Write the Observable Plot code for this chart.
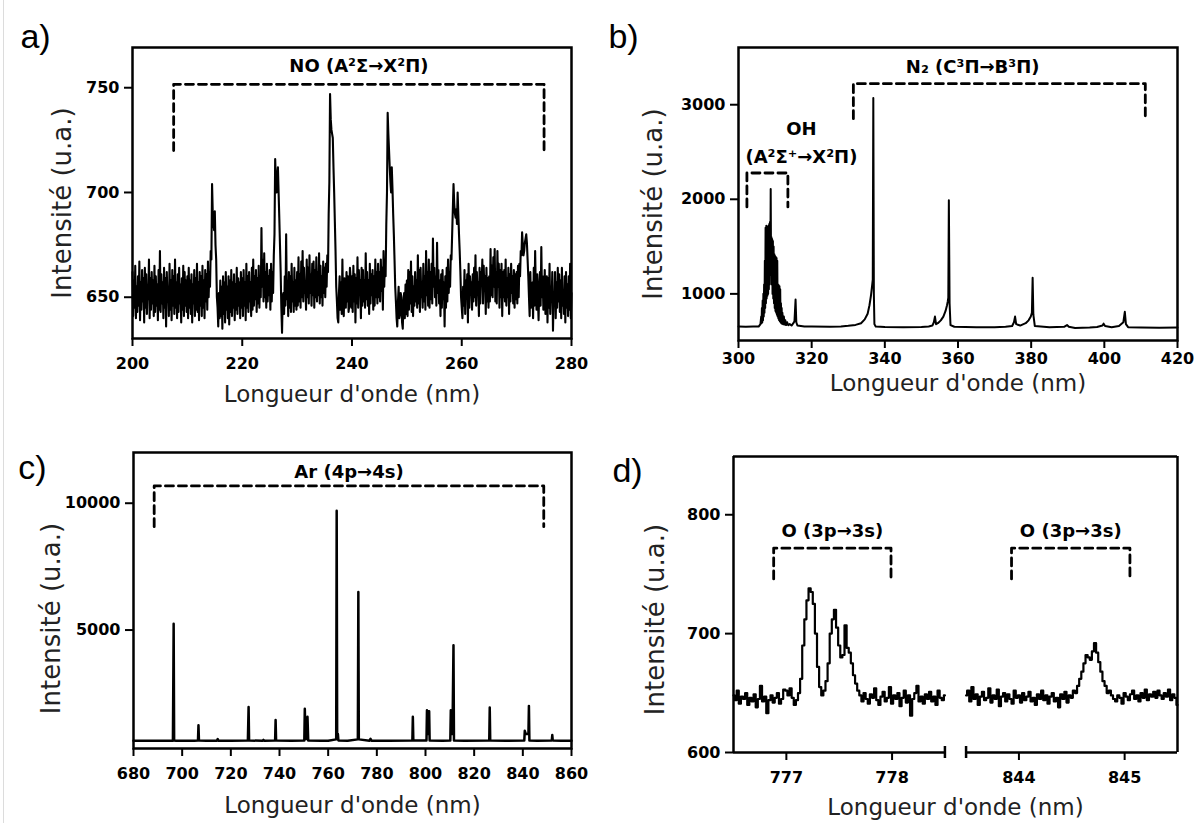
<!DOCTYPE html>
<html>
<head>
<meta charset="utf-8">
<script src="https://cdn.jsdelivr.net/npm/d3@7"></script>
<script src="https://cdn.jsdelivr.net/npm/@observablehq/plot@0.6"></script>
<style>
  html, body { margin: 0; padding: 0; background: #fff; }
  body { position: relative; width: 1198px; height: 823px; overflow: hidden; }
  .panel { position: absolute; }
  .panel svg { max-width: none !important; }
  .edge { position: absolute; left: 3px; top: 0; width: 1px; height: 823px; background: #dcdcdc; }
</style>
</head>
<body>
<div class="edge"></div>
<div id="pa" class="panel" style="left:0;top:0;width:600px;height:411px"></div>
<div id="pb" class="panel" style="left:600px;top:0;width:598px;height:411px"></div>
<div id="pc" class="panel" style="left:0;top:411px;width:600px;height:412px"></div>
<div id="pd" class="panel" style="left:600px;top:411px;width:598px;height:412px"></div>
<script>
// ---------- shared text ----------
const xTitle = "Longueur d'onde (nm)";
const yTitle = "Intensité (u.a.)";

// ---------- panel a : NO band, 200-280 nm (sampled every 0.125 nm) ----------
const aStart = 200, aStep = 0.125;
const aIntensity = [
  662, 641, 658, 645, 665, 640, 655, 643, 660, 646, 667, 639, 657, 644, 663, 648, 659, 638, 664, 645, 661, 642, 656, 649, 668, 640, 659, 644, 662, 647, 658, 641, 665, 643, 660, 646, 656, 639, 663, 644,
  672, 643, 661, 647, 657, 640, 664, 645, 659, 636, 662, 648, 655, 641, 666, 644, 658, 639, 663, 646, 660, 642, 668, 645, 657, 640, 661, 643, 664, 647, 656, 638, 659, 644, 665, 641, 662, 646, 658, 643,
  660, 640, 664, 645, 658, 642, 661, 638, 656, 647, 663, 641, 659, 644, 666, 643, 657, 639, 662, 646, 660, 641, 665, 645, 658, 640, 663, 648, 661, 644, 667, 650, 662, 655, 672, 668, 704, 690, 685, 682,
  691, 675, 668, 650, 645, 636, 652, 640, 658, 641, 655, 635, 660, 642, 657, 638, 662, 644, 655, 640, 660, 637, 658, 643, 663, 641, 657, 645, 661, 639, 656, 644, 664, 642, 659, 646, 657, 640, 662, 645,
  659, 641, 663, 646, 657, 639, 666, 645, 660, 643, 662, 648, 657, 641, 664, 644, 668, 646, 660, 649, 663, 643, 659, 647, 665, 645, 660, 650, 683, 655, 668, 648, 671, 650, 662, 645, 666, 648, 660, 651,
  663, 644, 666, 648, 662, 652, 670, 680, 716, 705, 700, 708, 712, 700, 688, 675, 662, 645, 633, 650, 652, 642, 660, 646, 680, 649, 658, 641, 662, 645, 660, 643, 666, 648, 657, 643, 664, 646, 658, 644,
  662, 646, 669, 648, 661, 645, 667, 650, 672, 648, 664, 652, 657, 644, 668, 650, 664, 647, 670, 652, 661, 646, 666, 651, 667, 645, 663, 650, 669, 648, 662, 651, 671, 647, 665, 650, 660, 646, 667, 652,
  664, 650, 666, 655, 670, 662, 690, 705, 747, 735, 730, 728, 726, 712, 700, 686, 672, 655, 648, 640, 638, 652, 660, 644, 657, 642, 668, 646, 641, 659, 654, 645, 662, 648, 660, 643, 646, 664, 659, 645,
  660, 643, 665, 648, 661, 638, 659, 647, 669, 645, 663, 652, 658, 640, 664, 646, 663, 648, 658, 645, 671, 649, 662, 646, 658, 642, 666, 647, 661, 651, 663, 644, 660, 646, 668, 650, 662, 647, 666, 650,
  662, 648, 668, 653, 664, 644, 672, 655, 668, 660, 685, 700, 738, 728, 720, 712, 705, 700, 712, 702, 690, 680, 668, 655, 648, 640, 636, 648, 655, 640, 642, 652, 650, 638, 635, 648, 652, 640, 656, 642,
  658, 641, 663, 644, 662, 647, 667, 643, 660, 641, 655, 646, 662, 648, 658, 645, 670, 647, 663, 643, 664, 650, 657, 645, 666, 648, 660, 644, 672, 651, 662, 646, 668, 645, 662, 649, 666, 647, 678, 655,
  664, 650, 660, 646, 676, 652, 663, 647, 658, 641, 661, 645, 663, 649, 657, 636, 660, 645, 664, 648, 668, 652, 662, 655, 670, 668, 680, 692, 704, 695, 690, 688, 692, 685, 700, 690, 680, 672, 662, 650,
  645, 640, 655, 646, 663, 642, 658, 650, 661, 638, 666, 645, 660, 654, 657, 644, 661, 648, 664, 650, 670, 646, 662, 652, 657, 641, 664, 647, 662, 656, 668, 647, 665, 653, 660, 642, 664, 648, 659, 645,
  660, 648, 673, 651, 665, 650, 669, 655, 673, 648, 662, 647, 672, 655, 666, 645, 663, 650, 666, 641, 662, 650, 663, 648, 668, 646, 659, 650, 664, 642, 661, 648, 666, 652, 660, 647, 663, 645, 661, 649,
  662, 647, 665, 650, 666, 660, 672, 670, 681, 675, 670, 672, 676, 678, 680, 676, 668, 660, 650, 641, 662, 645, 648, 657, 640, 664, 646, 672, 653, 644, 661, 650, 639, 655, 662, 646, 674, 650, 660, 644,
  646, 663, 642, 650, 660, 638, 659, 645, 666, 642, 655, 648, 662, 634, 651, 646, 662, 640, 657, 645, 664, 648, 661, 643, 658, 640, 664, 646, 653, 642, 660, 638, 662, 645, 656, 641, 660, 644, 666, 640,
  652
];
const aTicksX = [200, 220, 240, 260, 280];
const aTicksY = [650, 700, 750];
const aDomainX = [200, 280];
const aDomainY = [630.3, 769.2];
const aBands = [
  {label: "NO (A²Σ→X²Π)", from: 207.5, to: 275, top: 751.6, bottom: 720, labelAt: 241.25}
];

// ---------- panel b : OH + N2 bands, 300-420 nm  [wavelength, intensity] ----------
const bSpectrum = [
  [300, 655], [302, 652], [304, 656], [305.5, 654], [306.0, 680], [306.2, 760], [306.3, 690], [306.4, 850],
  [306.5, 700], [306.6, 930], [306.7, 720], [306.8, 1000], [306.9, 760], [307.0, 1100], [307.1, 800],
  [307.2, 1350], [307.3, 850], [307.4, 1700], [307.5, 900], [307.6, 1720], [307.7, 950], [307.8, 1710],
  [307.9, 980], [308.0, 1700], [308.1, 1000], [308.2, 1720], [308.3, 1050], [308.4, 1740], [308.5, 1100],
  [308.6, 1760], [308.7, 1200], [308.8, 2110], [308.9, 1300], [309.0, 1600], [309.1, 1100], [309.2, 1580],
  [309.3, 1000], [309.4, 1560], [309.5, 950], [309.6, 1500], [309.7, 900], [309.8, 1420], [309.9, 850],
  [310.0, 1400], [310.1, 820], [310.2, 1390], [310.3, 800], [310.4, 1380], [310.5, 780], [310.6, 1350],
  [310.7, 760], [310.8, 1100], [310.9, 740], [311.0, 1090], [311.1, 720], [311.2, 1080], [311.3, 710],
  [311.4, 1050], [311.5, 700], [311.6, 900], [311.7, 690], [311.8, 850], [311.9, 685], [312.0, 800],
  [312.2, 680], [312.4, 760], [312.6, 675], [312.8, 720], [313.0, 670], [313.3, 700], [313.6, 668],
  [314.0, 680], [314.5, 665], [315.0, 690], [315.3, 710], [315.6, 940], [315.8, 700], [316.1, 665],
  [318, 655], [320, 654], [325, 652], [328, 655], [330, 662], [332, 672], [333.5, 690], [334.5, 730],
  [335.3, 790], [335.8, 880], [336.2, 980], [336.5, 1080], [336.7, 1150], [336.85, 3070], [337.0, 1000],
  [337.15, 680], [337.5, 655], [340, 650], [345, 648], [350, 650], [352, 655], [353.0, 665], [353.4, 700],
  [353.7, 760], [354.0, 680], [354.5, 690], [355.3, 720], [356.0, 760], [356.6, 820], [357.0, 880],
  [357.2, 920], [357.35, 960], [357.5, 1990], [357.7, 900], [357.95, 670], [359, 652], [365, 648],
  [370, 648], [373, 652], [374.8, 660], [375.3, 700], [375.6, 760], [375.9, 680], [377, 665], [378.5, 690],
  [379.3, 720], [379.9, 760], [380.2, 800], [380.4, 1170], [380.6, 780], [381.0, 660], [385, 648],
  [389, 652], [389.8, 670], [390.3, 652], [392, 640], [396, 645], [398, 650], [399.5, 665], [399.8, 685],
  [400.2, 660], [402, 648], [404, 660], [405.2, 700], [405.6, 810], [405.9, 680], [406.5, 648], [410, 645],
  [415, 642], [420, 645]
];
const bTicksX = [300, 320, 340, 360, 380, 400, 420];
const bTicksY = [1000, 2000, 3000];
const bDomainX = [300, 420];
const bDomainY = [507, 3605];
const bBands = [
  {label: "N₂ (C³Π→B³Π)", from: 331.4, to: 411.2, top: 3222, bottom: 2852, labelAt: 364},
  {label: "", from: 302.3, to: 313.5, top: 2278, bottom: 1919, labelAt: 307.9}
];
const bNotes = [
  {text: "OH", wl: 317.2, v: 2740},
  {text: "(A²Σ⁺→X²Π)", wl: 317.2, v: 2450}
];

// ---------- panel c : Ar lines, 680-860 nm  [wavelength, intensity] ----------
const cSpectrum = [
  [680, 632], [690, 636], [695, 632], [696.2, 640], [696.4, 3600], [696.5, 5250], [696.7, 645], [697.5, 632],
  [705, 636], [706.5, 645], [706.7, 1250], [706.9, 645], [710, 634], [714.3, 640], [714.6, 700], [714.9, 638],
  [720, 632], [727.0, 645], [727.3, 1970], [727.5, 645], [733, 634], [733.4, 672], [733.8, 634],
  [738.2, 645], [738.4, 1450], [738.6, 645], [745, 632], [750.2, 645], [750.4, 1900], [750.7, 700],
  [751.3, 700], [751.5, 1580], [751.8, 645], [757, 638], [760, 632], [763.3, 690], [763.5, 9700],
  [763.7, 690], [764.0, 900], [764.2, 645], [768, 638], [772.2, 690], [772.4, 6500], [772.5, 3400],
  [772.6, 690], [777.0, 638], [777.4, 710], [777.8, 638], [785, 632], [794.6, 645], [794.8, 1580],
  [795.0, 645], [800.4, 645], [800.6, 1840], [800.9, 900], [801.1, 1800], [801.3, 900], [801.5, 1800],
  [801.7, 645], [807, 638], [810.2, 645], [810.4, 1840], [810.6, 900], [810.8, 1840], [811.0, 900],
  [811.2, 1840], [811.5, 4400], [811.7, 645], [816, 634], [826.2, 645], [826.4, 1950], [826.6, 645],
  [833, 634], [840.6, 645], [840.8, 1030], [841.2, 900], [842.3, 900], [842.5, 2010], [842.7, 645],
  [846, 634], [851.9, 645], [852.1, 860], [852.3, 645], [856, 632], [860, 632]
];
const cTicksX = [680, 700, 720, 740, 760, 780, 800, 820, 840, 860];
const cTicksY = [5000, 10000];
const cDomainX = [680, 860];
const cDomainY = [330, 12000];
const cBands = [
  {label: "Ar (4p→4s)", from: 688.5, to: 848.6, top: 10683, bottom: 9077, labelAt: 768.55}
];

// ---------- panel d : O lines, two windows (sampled every 0.02 nm) ----------
const dLeftStart = 776.5, dLeftEnd = 778.5, dRightStart = 843.5, dRightEnd = 845.5, dStep = 0.02;
const dLeftIntensity = [
  648, 644, 652, 641, 647, 645, 650, 640, 646, 643,
  649, 638, 645, 656, 643, 647, 633, 644, 648, 642,
  646, 650, 641, 645, 653, 652, 648, 654, 646, 640,
  644, 650, 662, 690, 712, 728, 738, 735, 725, 700,
  672, 655, 648, 652, 660, 675, 700, 712, 720, 705,
  690, 680, 682, 707, 688, 684, 675, 665, 658, 652,
  648, 643, 650, 645, 641, 649, 646, 654, 644, 640,
  647, 651, 643, 646, 655, 641, 648, 645, 650, 639,
  646, 652, 642, 648, 631, 645, 650, 656, 643, 647,
  641, 649, 645, 651, 643, 647, 640, 652, 646, 644,
  648
];
const dRightIntensity = [
  648, 652, 643, 655, 645, 649, 640, 647, 651, 644,
  646, 654, 642, 648, 645, 653, 639, 647, 650, 643,
  649, 645, 641, 652, 646, 648, 642, 650, 644, 647,
  651, 643, 646, 640, 649, 645, 652, 644, 648, 641,
  647, 650, 643, 646, 638, 649, 645, 651, 642, 648,
  646, 652, 650, 656, 662, 668, 675, 682, 680, 678,
  685, 692, 684, 676, 668, 660, 656, 650, 652, 648,
  645, 643, 648, 646, 641, 650, 647, 644, 649, 652,
  645, 648, 643, 650, 646, 653, 644, 649, 647, 651,
  646, 652, 648, 645, 650, 647, 653, 644, 649, 646,
  640
];
const dTicksX = [777, 778, 844, 845];
const dTicksY = [600, 700, 800];
const dDomainY = [600, 849];
const dBands = [
  {label: "O (3p→3s)", from: 776.88, to: 777.99, top: 771.9, bottom: 746, labelAt: 777.435},
  {label: "O (3p→3s)", from: 843.93, to: 845.05, top: 771.9, bottom: 746, labelAt: 844.49}
];

// ---------- helpers ----------
const ink = "black";
const boldFont = "DejaVu Sans";
const letterFont = "'Liberation Sans', Arial, Helvetica, sans-serif";
const titleFont = "DejaVu Sans";
const svgStyle = "font-family: 'DejaVu Sans', sans-serif; font-size: 16px; font-weight: bold; color: black; background: transparent; overflow: visible;";
const boldText = {fontFamily: boldFont, fontWeight: "bold", fontSize: 16};
const labelText = {fontFamily: boldFont, fontWeight: "bold", fontSize: 18, fill: ink};

function bracketMarks(bands, dy, toX = (v) => v) {
  const marks = [];
  for (const b of bands) {
    const path = [{x: b.from, y: b.bottom}, {x: b.from, y: b.top}, {x: b.to, y: b.top}, {x: b.to, y: b.bottom}];
    marks.push(Plot.line(path, {x: (d) => toX(d.x), y: "y", stroke: ink, strokeWidth: 2.8, strokeDasharray: "8,5"}));
    if (b.label) marks.push(Plot.text([b], {x: (d) => toX(d.labelAt), y: "top", text: "label", dy, ...labelText}));
  }
  return marks;
}

function decorations(letter, o) {
  return [
    Plot.text([letter], {text: (d) => d, frameAnchor: "top-left", dx: o.letterDx, dy: o.letterDy,
      textAnchor: "middle", lineAnchor: "middle", fontFamily: letterFont, fontWeight: "normal", fontSize: 34, fill: ink}),
    Plot.text([yTitle], {text: (d) => d, frameAnchor: "left", rotate: -90, dx: o.yTitleDx, dy: o.yTitleDy,
      textAnchor: "middle", lineAnchor: "middle", fontFamily: titleFont, fontWeight: "normal", fontSize: 26, fill: "#222"}),
    Plot.text([xTitle], {text: (d) => d, frameAnchor: "bottom", dy: o.xTitleDy,
      textAnchor: "middle", lineAnchor: "middle", fontFamily: titleFont, fontWeight: "normal", fontSize: 23, fill: "#222"})
  ];
}

function axes(xTicks, yTicks, xPad, xFormat = "d") {
  return [
    Plot.axisX({ticks: xTicks, tickFormat: xFormat, tickSize: 8, tickPadding: xPad, label: null, strokeWidth: 2, ...boldText}),
    Plot.axisY({ticks: yTicks, tickFormat: "d", tickSize: 8, tickPadding: 5, label: null, strokeWidth: 2, ...boldText})
  ];
}

// ---------- panel a ----------
const aData = aIntensity.map((v, i) => ({wl: aStart + i * aStep, v}));
document.getElementById("pa").append(Plot.plot({
  width: 600, height: 411, marginLeft: 132, marginRight: 29, marginTop: 47, marginBottom: 73,
  x: {domain: aDomainX}, y: {domain: aDomainY}, style: svgStyle,
  marks: [
    Plot.line(aData, {x: "wl", y: "v", stroke: ink, strokeWidth: 2.1}),
    ...bracketMarks(aBands, -18),
    Plot.frame({stroke: ink, strokeWidth: 2.5}),
    ...axes(aTicksX, aTicksY, 11),
    ...decorations("a)", {letterDx: -97, letterDy: -10, yTitleDx: -70, yTitleDy: 10, xTitleDy: 56})
  ]
}));

// ---------- panel b ----------
const bData = bSpectrum.map(([wl, v]) => ({wl, v}));
document.getElementById("pb").append(Plot.plot({
  width: 598, height: 411, marginLeft: 138, marginRight: 21, marginTop: 47, marginBottom: 71,
  x: {domain: bDomainX}, y: {domain: bDomainY}, style: svgStyle,
  marks: [
    Plot.line(bData, {x: "wl", y: "v", stroke: ink, strokeWidth: 2}),
    ...bracketMarks(bBands, -16),
    Plot.text(bNotes, {x: "wl", y: "v", text: "text", ...labelText}),
    Plot.frame({stroke: ink, strokeWidth: 2.5}),
    ...axes(bTicksX, bTicksY, 4),
    ...decorations("b)", {letterDx: -115, letterDy: -10, yTitleDx: -85, yTitleDy: 10, xTitleDy: 43})
  ]
}));

// ---------- panel c ----------
const cData = cSpectrum.map(([wl, v]) => ({wl, v}));
document.getElementById("pc").append(Plot.plot({
  width: 600, height: 412, marginLeft: 133, marginRight: 29, marginTop: 41, marginBottom: 75,
  x: {domain: cDomainX}, y: {domain: cDomainY}, style: svgStyle,
  marks: [
    Plot.line(cData, {x: "wl", y: "v", stroke: ink, strokeWidth: 2.5}),
    ...bracketMarks(cBands, -14),
    Plot.frame({stroke: ink, strokeWidth: 2.5}),
    ...axes(cTicksX, cTicksY, 11),
    ...decorations("c)", {letterDx: -101, letterDy: 16, yTitleDx: -82, yTitleDy: 18, xTitleDy: 57})
  ]
}));

// ---------- panel d (broken x axis) ----------
const dGap = 0.2;
const toU = (wl) => wl < (dLeftEnd + dRightStart) / 2 ? wl - dLeftStart : wl - dRightStart + (dLeftEnd - dLeftStart) + dGap;
const dLeft = dLeftIntensity.map((v, i) => ({wl: dLeftStart + i * dStep, v}));
const dRight = dRightIntensity.map((v, i) => ({wl: dRightStart + i * dStep, v}));
const dSegments = [[dLeftStart, dLeftEnd], [dRightStart, dRightEnd]];
document.getElementById("pd").append(Plot.plot({
  width: 598, height: 412, marginLeft: 133, marginRight: 21, marginTop: 45, marginBottom: 71,
  x: {domain: [toU(dLeftStart), toU(dRightEnd)]}, y: {domain: dDomainY}, style: svgStyle,
  marks: [
    Plot.line(dLeft, {x: (d) => toU(d.wl), y: "v", stroke: ink, strokeWidth: 2.2, curve: "step"}),
    Plot.line(dRight, {x: (d) => toU(d.wl), y: "v", stroke: ink, strokeWidth: 2.2, curve: "step"}),
    ...bracketMarks(dBands, -17, toU),
    Plot.ruleX([dLeftStart, dRightEnd], {x: toU, stroke: ink, strokeWidth: 2.5}),
    Plot.ruleY([dDomainY[1]], {stroke: ink, strokeWidth: 2.5}),
    Plot.ruleY(dSegments, {y: () => dDomainY[0], x1: (s) => toU(s[0]), x2: (s) => toU(s[1]), stroke: ink, strokeWidth: 2.5}),
    Plot.ruleX([dLeftEnd, dRightStart], {x: toU, y1: () => dDomainY[0], y2: () => dDomainY[0], insetTop: -6, insetBottom: -6, stroke: ink, strokeWidth: 2.5}),
    ...axes(dTicksX.map(toU), dTicksY, 11, (u) => String(dTicksX.find((w) => Math.abs(toU(w) - u) < 1e-6))),
    ...decorations("d)", {letterDx: -106, letterDy: 15, yTitleDx: -78, yTitleDy: 15, xTitleDy: 55})
  ]
}));
</script>
</body>
</html>
